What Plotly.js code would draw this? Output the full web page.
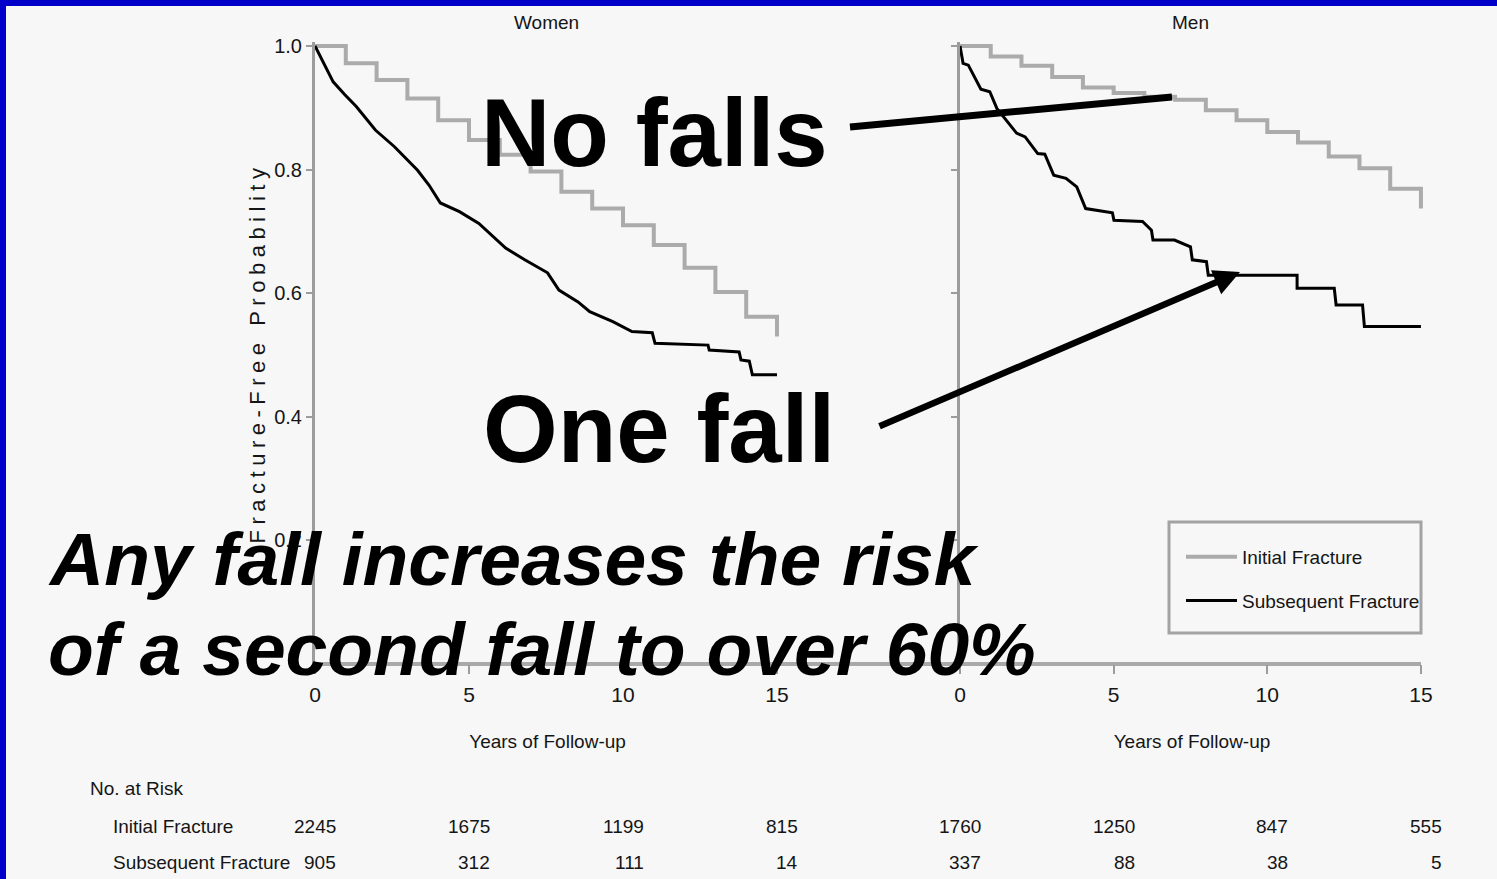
<!DOCTYPE html>
<html>
<head>
<meta charset="utf-8">
<script src="https://cdn.plot.ly/plotly-3.0.1.min.js"></script>
<style>
  html, body { margin: 0; padding: 0; width: 1497px; height: 879px; overflow: hidden; background: #0000c8; }
  #chart { position: absolute; left: 6px; top: 6px; width: 1491px; height: 873px; }
  .ytitle { letter-spacing: 5.5px; }
</style>
</head>
<body>
<div id="chart"></div>
<script>
// Kaplan-Meier fracture-free probability, women and men, initial vs subsequent fracture

// Initial fracture: yearly step levels (years 0..15)
const stepYears = [0, 1, 2, 3, 4, 5, 6, 7, 8, 9, 10, 11, 12, 13, 14, 15];
const womenInitial = [1.0, 0.972, 0.945, 0.915, 0.880, 0.848, 0.824, 0.797, 0.764, 0.737, 0.710, 0.678, 0.641, 0.602, 0.562, 0.530];
const menInitial = [1.0, 0.983, 0.968, 0.950, 0.933, 0.924, 0.918, 0.913, 0.896, 0.880, 0.861, 0.844, 0.821, 0.802, 0.769, 0.737];

// Subsequent fracture curves
const womenSubYears = [0, 0.59, 0.97, 1.34, 1.96, 2.58, 3.33, 3.70, 4.07, 4.69, 5.32, 6.19, 6.81, 7.55, 7.92, 8.54, 8.92, 9.67, 10.29, 10.95, 11.04, 12.76, 12.80, 13.77, 13.83, 14.10, 14.20, 15.0];
const womenSub = [1.0, 0.942, 0.921, 0.902, 0.864, 0.837, 0.799, 0.775, 0.746, 0.732, 0.713, 0.673, 0.654, 0.633, 0.605, 0.586, 0.570, 0.554, 0.538, 0.536, 0.519, 0.516, 0.508, 0.505, 0.492, 0.490, 0.468, 0.468];
const menSubYears = [0, 0.10, 0.27, 0.68, 0.97, 1.20, 1.84, 2.12, 2.53, 2.76, 3.05, 3.45, 3.80, 4.09, 4.96, 5.01, 5.94, 6.23, 6.28, 6.98, 7.50, 7.56, 8.02, 8.08, 10.97, 10.97, 12.18, 12.24, 13.10, 13.16, 15.0];
const menSub = [1.0, 0.972, 0.969, 0.930, 0.926, 0.899, 0.859, 0.853, 0.826, 0.825, 0.791, 0.786, 0.772, 0.737, 0.730, 0.718, 0.716, 0.702, 0.686, 0.686, 0.675, 0.654, 0.651, 0.629, 0.629, 0.608, 0.608, 0.581, 0.581, 0.546, 0.546];

// Number at risk
const riskYears = [0, 5, 10, 15];
const womenInitialRisk = [2245, 1675, 1199, 815];
const womenSubRisk = [905, 312, 111, 14];
const menInitialRisk = [1760, 1250, 847, 555];
const menSubRisk = [337, 88, 38, 5];

const yTicks = [0.2, 0.4, 0.6, 0.8, 1.0];
const seriesNames = ['Initial Fracture', 'Subsequent Fracture'];
const panelTitles = ['Women', 'Men'];
const riskRowLabels = ['No. at Risk', 'Initial Fracture', 'Subsequent Fracture'];

const SMALL = '"Liberation Sans", Arial, sans-serif';
const SANS = '"Liberation Sans", Arial, sans-serif';
const GREY = '#ababab';
const AXIS = '#9c9c9c';
const INK = '#151515';

// plot-area geometry (pixels inside the 1491x873 div)
const W = 1491, H = 873;
const M = { l: 309, r: 73, t: 36, b: 215 };
const PW = W - M.l - M.r, PH = H - M.t - M.b;
// page pixel -> paper fraction
const xP = px => (px - 6 - M.l) / PW;
const yP = py => (H - M.b - (py - 6)) / PH;
const yTop = PH / 618;          // y value at the top of the plot area
const xEndW = 15.1, xEndM = 15.1;
const womenDomEnd = (xEndW * 30.8) / PW;
const menDomStart = (954 - M.l) / PW;

const traces = [
  { x: stepYears, y: womenInitial, xaxis: 'x', yaxis: 'y', name: seriesNames[0], legendgroup: 'a',
    mode: 'lines', line: { shape: 'hv', color: GREY, width: 4 } },
  { x: womenSubYears, y: womenSub, xaxis: 'x', yaxis: 'y', name: seriesNames[1], legendgroup: 'b',
    mode: 'lines', line: { color: '#000', width: 3 } },
  { x: stepYears, y: menInitial, xaxis: 'x2', yaxis: 'y2', name: seriesNames[0], legendgroup: 'a', showlegend: false,
    mode: 'lines', line: { shape: 'hv', color: GREY, width: 4 } },
  { x: menSubYears, y: menSub, xaxis: 'x2', yaxis: 'y2', name: seriesNames[1], legendgroup: 'b', showlegend: false,
    mode: 'lines', line: { color: '#000', width: 3 } }
];

const xAxisBase = {
  range: [0, xEndW], tick0: 0, dtick: 5, ticks: 'outside', ticklen: 9, tickwidth: 2, tickcolor: AXIS,
  showline: false, showgrid: false, zeroline: false, fixedrange: true,
  tickfont: { family: SMALL, size: 21, color: INK }, ticklabelstandoff: 3,
  title: { text: 'Years of Follow-up', font: { family: SMALL, size: 19, color: INK }, standoff: 29 }
};
const yAxisBase = {
  range: [0, yTop], tickvals: yTicks, tickformat: '.1f', ticks: 'outside', ticklen: 6, tickwidth: 2, tickcolor: AXIS,
  showline: true, linecolor: AXIS, linewidth: 3, showgrid: false, zeroline: false, fixedrange: true,
  tickfont: { family: SMALL, size: 20, color: INK }
};

const annotations = [];
const small = { family: SMALL, size: 19, color: INK };
// panel titles
[['x', 0], ['x2', 1]].forEach(([ax, i]) => {
  annotations.push({ xref: ax, yref: 'paper', x: 7.5, y: yP(22), text: panelTitles[i], showarrow: false,
    xanchor: 'center', yanchor: 'middle', font: { family: SMALL, size: 19, color: INK } });
});
// number-at-risk table
annotations.push({ xref: 'paper', yref: 'paper', x: xP(88), y: yP(788), text: riskRowLabels[0], showarrow: false,
  xanchor: 'left', yanchor: 'middle', font: small });
annotations.push({ xref: 'paper', yref: 'paper', x: xP(111), y: yP(826), text: riskRowLabels[1], showarrow: false,
  xanchor: 'left', yanchor: 'middle', font: small });
annotations.push({ xref: 'paper', yref: 'paper', x: xP(111), y: yP(862), text: riskRowLabels[2], showarrow: false,
  xanchor: 'left', yanchor: 'middle', font: small });
[['x', womenInitialRisk, womenSubRisk], ['x2', menInitialRisk, menSubRisk]].forEach(([ax, ini, sub]) => {
  riskYears.forEach((yr, k) => {
    annotations.push({ xref: ax, yref: 'paper', x: yr, y: yP(826), text: String(ini[k]), showarrow: false,
      xanchor: 'right', xshift: 23, yanchor: 'middle', font: small });
    annotations.push({ xref: ax, yref: 'paper', x: yr, y: yP(862), text: String(sub[k]), showarrow: false,
      xanchor: 'right', xshift: 23, yanchor: 'middle', font: small });
  });
});
// large call-outs
annotations.push({ xref: 'paper', yref: 'paper', x: xP(479), y: yP(132), text: '<b>No falls</b>', showarrow: false,
  xanchor: 'left', yanchor: 'middle', font: { family: SANS, size: 96, color: '#000' } });
annotations.push({ xref: 'paper', yref: 'paper', x: xP(481), y: yP(428), text: '<b>One fall</b>', showarrow: false,
  xanchor: 'left', yanchor: 'middle', font: { family: SANS, size: 96, color: '#000' } });
annotations.push({ xref: 'paper', yref: 'paper', x: xP(1240), y: yP(272), text: '', showarrow: true,
  ax: 878 - 1240, ay: 427 - 272, axref: 'pixel', ayref: 'pixel', arrowhead: 2, arrowsize: 0.8, arrowwidth: 6.5,
  arrowcolor: '#000', standoff: 0, startstandoff: 0 });
annotations.push({ xref: 'paper', yref: 'paper', x: xP(46), y: yP(559), text: '<b><i>Any fall increases the risk</i></b>', showarrow: false,
  xanchor: 'left', yanchor: 'middle', font: { family: SANS, size: 75, color: '#000' } });
annotations.push({ xref: 'paper', yref: 'paper', x: xP(46), y: yP(649), text: '<b><i>of a second fall to over 60%</i></b>', showarrow: false,
  xanchor: 'left', yanchor: 'middle', font: { family: SANS, size: 75, color: '#000' } });

const shapes = [
  // shared baseline running under both panels
  { type: 'line', xref: 'paper', yref: 'paper', x0: 0, x1: xP(1421), y0: 0, y1: 0, layer: 'below',
    line: { color: '#a9a9a9', width: 4 } },
  // legend frame
  { type: 'rect', xref: 'paper', yref: 'paper', x0: xP(1169), x1: xP(1421), y0: yP(633), y1: yP(522), layer: 'below',
    line: { color: '#a3a3a3', width: 3 }, fillcolor: 'rgba(0,0,0,0)' },
  // pointer to the no-falls curve
  { type: 'line', xref: 'paper', yref: 'paper', x0: xP(850), y0: yP(127), x1: xP(1172), y1: yP(97), layer: 'above',
    line: { color: '#000', width: 7 } }
];

const layout = {
  width: W, height: H,
  margin: M,
  paper_bgcolor: '#f7f7f7', plot_bgcolor: 'rgba(0,0,0,0)',
  showlegend: true,
  legend: {
    x: xP(1181), y: yP(538), xanchor: 'left', yanchor: 'top', bgcolor: 'rgba(0,0,0,0)', borderwidth: 0,
    font: { family: SMALL, size: 19, color: INK }, itemwidth: 51, tracegroupgap: 16, traceorder: 'grouped'
  },
  xaxis: Object.assign({}, xAxisBase, { domain: [0, womenDomEnd], anchor: 'y' }),
  yaxis: Object.assign({}, yAxisBase, { domain: [0, 1], anchor: 'x',
    title: { text: 'Fracture-Free Probability', font: { family: SANS, size: 22, color: INK }, standoff: 3 } }),
  xaxis2: Object.assign({}, xAxisBase, { domain: [menDomStart, 1], anchor: 'y2', range: [0, xEndM] }),
  yaxis2: Object.assign({}, yAxisBase, { domain: [0, 1], anchor: 'x2', showticklabels: false }),
  annotations: annotations,
  shapes: shapes
};

Plotly.newPlot('chart', traces, layout, { displayModeBar: false, staticPlot: true });
</script>
</body>
</html>
